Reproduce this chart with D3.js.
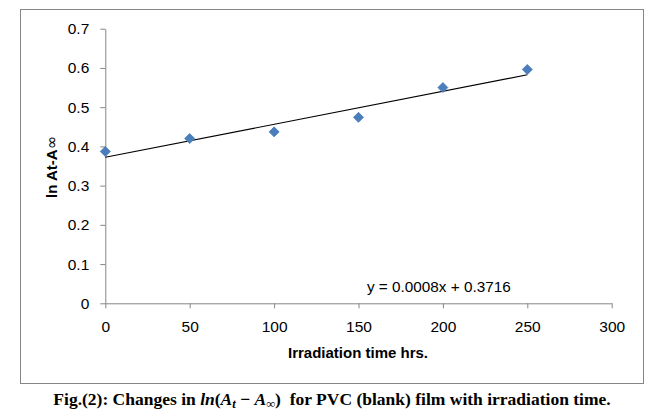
<!DOCTYPE html>
<html>
<head>
<meta charset="utf-8">
<script src="https://cdn.jsdelivr.net/npm/d3@7"></script>
<style>
  html, body { margin: 0; padding: 0; background: #fff; }
  svg { display: block; }
</style>
</head>
<body>
<svg id="chart" width="659" height="412"></svg>
<script>
// data
const times = [0, 50, 100, 150, 200, 250];
const lnValues = [0.387, 0.420, 0.437, 0.474, 0.550, 0.596];
const xTicks = [0, 50, 100, 150, 200, 250, 300];
const yTicks = [0, 0.1, 0.2, 0.3, 0.4, 0.5, 0.6, 0.7];
const eqText = 'y = 0.0008x + 0.3716';
const xTitle = 'Irradiation time hrs.';
const yTitle = 'ln At-A';

const svg = d3.select('#chart');
const width = +svg.attr('width');
const height = +svg.attr('height');

// plot area
const margin = { top: 28.7, right: 47.3, bottom: 108.7, left: 105.3 };
const axisColor = '#868686';
const sans = '"Liberation Sans", Arial, sans-serif';

// outer chart frame
svg.append('rect')
  .attr('x', 20.5).attr('y', 9.5)
  .attr('width', 623).attr('height', 374)
  .attr('fill', 'none')
  .attr('stroke', axisColor);

const x = d3.scaleLinear().domain([0, 300]).range([margin.left, width - margin.right]);
const y = d3.scaleLinear().domain([0, 0.7]).range([height - margin.bottom, margin.top]);

// y axis
const yAxis = svg.append('g')
  .attr('transform', `translate(${margin.left},0)`)
  .call(d3.axisLeft(y).tickValues(yTicks).tickSize(5).tickSizeOuter(0).tickPadding(11)
    .tickFormat(d => d === 0 ? '0' : d3.format('.1f')(d)));

// x axis
const xAxis = svg.append('g')
  .attr('transform', `translate(0,${y(0)})`)
  .call(d3.axisBottom(x).tickValues(xTicks).tickSize(5).tickSizeOuter(0).tickPadding(13));

[xAxis, yAxis].forEach(g => {
  g.select('.domain').attr('stroke', axisColor);
  g.selectAll('.tick line').attr('stroke', axisColor);
  g.selectAll('.tick text')
    .attr('fill', '#000')
    .style('font-family', sans)
    .style('font-size', '15.5px');
});

// least squares trendline
const mx = d3.mean(times);
const my = d3.mean(lnValues);
const sxy = d3.sum(times, (t, i) => (t - mx) * (lnValues[i] - my));
const sxx = d3.sum(times, t => (t - mx) * (t - mx));
const slope = sxy / sxx;
const intercept = my - slope * mx;
const tExt = d3.extent(times);

svg.append('line')
  .attr('x1', x(tExt[0])).attr('y1', y(intercept + slope * tExt[0]))
  .attr('x2', x(tExt[1])).attr('y2', y(intercept + slope * tExt[1]))
  .attr('stroke', '#000')
  .attr('stroke-width', 1.1);

// diamond markers
const diamond = d3.symbol().type(d3.symbolSquare).size(50);
svg.append('g')
  .selectAll('path')
  .data(times)
  .join('path')
  .attr('d', diamond)
  .attr('transform', (t, i) => `translate(${x(t)},${y(lnValues[i])}) rotate(45)`)
  .attr('fill', '#4A7EBB')
  .attr('stroke', '#4A7EBB')
  .attr('stroke-width', 0.8);

// equation label
svg.append('text')
  .attr('x', x(155)).attr('y', y(0.03))
  .style('font-family', sans)
  .style('font-size', '15.3px')
  .text(eqText);

// axis titles
svg.append('text')
  .attr('x', 358).attr('y', 358)
  .attr('text-anchor', 'middle')
  .style('font-family', sans)
  .style('font-size', '15px')
  .style('font-weight', 'bold')
  .text(xTitle);

const yt = svg.append('text')
  .attr('transform', 'translate(57,167) rotate(-90)')
  .attr('text-anchor', 'middle')
  .style('font-family', sans)
  .style('font-size', '15px')
  .style('font-weight', 'bold');
yt.append('tspan').text(yTitle);
// the infinity sign is drawn larger and thin, like the original symbol font
yt.append('tspan')
  .style('font-family', '"DejaVu Sans", sans-serif')
  .style('font-weight', 'normal')
  .style('font-size', '16px')
  .text('\u221E');

// figure caption
const serif = '"Liberation Serif", "Times New Roman", serif';
const cap = svg.append('text')
  .attr('x', 332).attr('y', 405)
  .attr('text-anchor', 'middle')
  .style('font-family', serif)
  .style('font-size', '17.5px')
  .style('font-weight', 'bold');
cap.append('tspan').text('Fig.(2): Changes in ');
cap.append('tspan').style('font-style', 'italic').text('ln');
cap.append('tspan').text('(');
cap.append('tspan').style('font-style', 'italic').text('A');
cap.append('tspan').style('font-style', 'italic').style('font-size', '12.5px').attr('dy', 3).text('t');
cap.append('tspan').attr('dy', -3).text(' \u2212 ');
cap.append('tspan').style('font-style', 'italic').text('A');
cap.append('tspan').style('font-size', '12.5px').attr('dy', 3).text('\u221E');
cap.append('tspan').attr('dy', -3).text(')');
cap.append('tspan').text('\u00A0 for PVC (blank) film with irradiation time.');
</script>
</body>
</html>
